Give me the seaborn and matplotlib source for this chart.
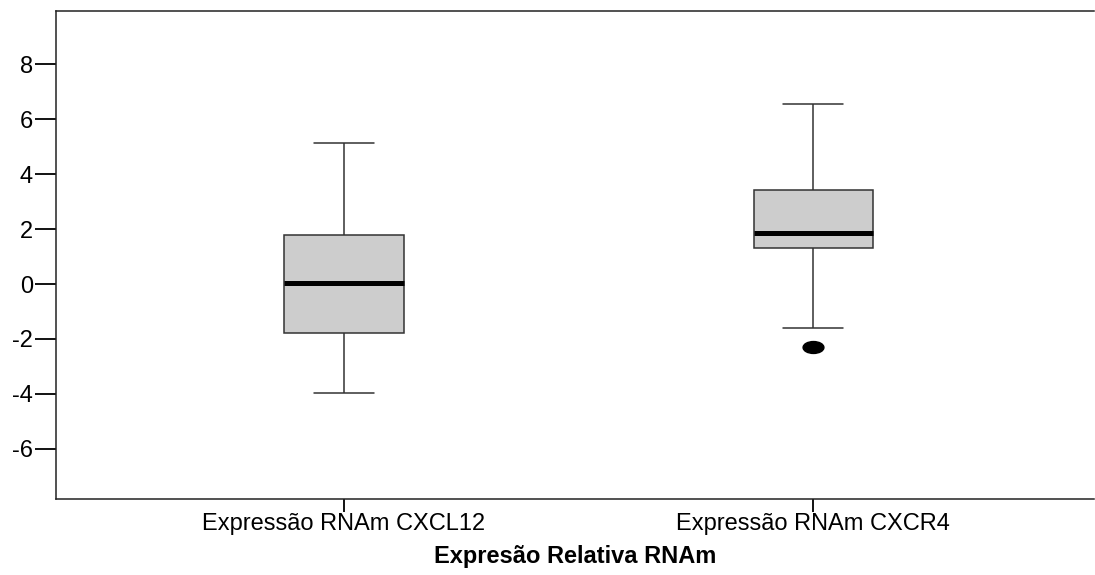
import numpy as np
import pandas as pd
import matplotlib
matplotlib.use("Agg")
import matplotlib.pyplot as plt
from matplotlib.path import Path
from matplotlib.transforms import Affine2D
import seaborn as sns

# Data
categories = ["Expressão RNAm CXCL12", "Expressão RNAm CXCR4"]
cxcl12_values = [-3.95, -1.77, 0.05, 1.78, 5.14]
cxcr4_values = [-2.28, -1.60, 1.30, 1.30, 1.87, 3.42, 3.42, 6.53, 6.53]
y_ticks = [-6, -4, -2, 0, 2, 4, 6, 8]
x_title = "Expresão Relativa RNAm"

df = pd.DataFrame({
    "grupo": [categories[0]] * len(cxcl12_values) + [categories[1]] * len(cxcr4_values),
    "valor": cxcl12_values + cxcr4_values,
})

sns.set_theme(style="white")
plt.rcParams["font.family"] = ["Liberation Sans", "DejaVu Sans"]
plt.rcParams["text.color"] = "black"
plt.rcParams["axes.labelcolor"] = "black"
plt.rcParams["xtick.color"] = "black"
plt.rcParams["ytick.color"] = "black"

fig = plt.figure(figsize=(10.95, 5.75), dpi=100)
ax = fig.add_axes([56 / 1095, 76 / 575, 1038 / 1095, 488 / 575])

ellipse = Path.unit_circle().transformed(Affine2D().scale(1.75, 1.0))

sns.boxplot(
    data=df, x="grupo", y="valor", order=categories, ax=ax,
    color="#cdcdcd", saturation=1, width=0.254,
    linecolor="#333333", linewidth=1.1,
    medianprops=dict(color="black", linewidth=3.6),
    flierprops=dict(marker=ellipse, markersize=15, markerfacecolor="black",
                    markeredgecolor="black"),
)

ax.set_xlim(-0.614, 1.5985)
ax.set_ylim(-7.82, 9.93)
ax.set_yticks(y_ticks)
ax.set_yticklabels([str(t) for t in y_ticks])
ax.set_ylabel("")
ax.set_xlabel(x_title, fontsize=17, fontweight="bold", labelpad=7, color="black")

for side in ["left", "top", "bottom"]:
    ax.spines[side].set_visible(True)
    ax.spines[side].set_color("#222222")
    ax.spines[side].set_linewidth(1.1)
ax.spines["right"].set_visible(False)

ax.tick_params(axis="y", which="major", left=True, length=15, width=1.3,
               color="black", labelcolor="black", labelsize=17, pad=1.5)
ax.tick_params(axis="x", which="major", bottom=True, length=9, width=1.3,
               color="black", labelcolor="black", labelsize=17, pad=1)

fig.savefig("out.png", dpi=100)
